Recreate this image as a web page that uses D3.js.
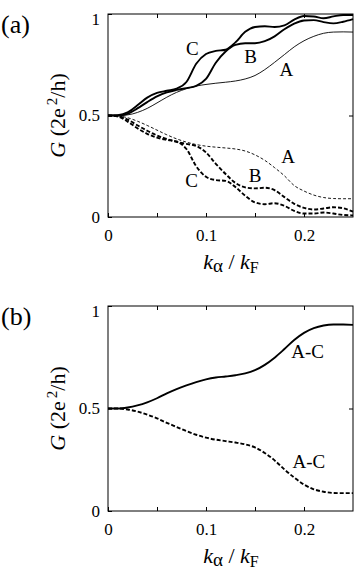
<!DOCTYPE html>
<html>
<head>
<meta charset="utf-8">
<script src="https://cdn.jsdelivr.net/npm/d3@7"></script>
<style>
  body { margin: 0; background: #fff; }
  svg { display: block; }
</style>
</head>
<body>
<svg id="chart" width="354" height="572"></svg>
<script>
// k_alpha / k_F sample points (shared by all curves)
var kx = [0, 0.01, 0.02, 0.03, 0.04, 0.05, 0.06, 0.07, 0.08, 0.09, 0.10, 0.11, 0.12,
          0.13, 0.14, 0.15, 0.16, 0.17, 0.18, 0.19, 0.20, 0.21, 0.22, 0.23, 0.24, 0.25];

// panel (a), upper (solid) curves
var upA = [0.5, 0.5, 0.503, 0.515, 0.535, 0.562, 0.59, 0.614, 0.632, 0.645, 0.653, 0.659, 0.664,
           0.67, 0.68, 0.697, 0.726, 0.762, 0.80, 0.838, 0.868, 0.89, 0.905, 0.911, 0.912, 0.911];
var upB = [0.5, 0.5, 0.508, 0.535, 0.566, 0.594, 0.614, 0.626, 0.635, 0.646, 0.68, 0.76, 0.815,
           0.848, 0.856, 0.856, 0.866, 0.89, 0.925, 0.953, 0.968, 0.97, 0.96, 0.954, 0.962, 0.975];
var upC = [0.5, 0.502, 0.515, 0.55, 0.588, 0.611, 0.622, 0.632, 0.665, 0.755, 0.803, 0.818, 0.824,
           0.86, 0.912, 0.936, 0.94, 0.936, 0.944, 0.972, 0.99, 0.988, 0.979, 0.988, 0.995, 0.995];
// panel (a), lower (dashed) curves
var dnA = [0.5, 0.498, 0.489, 0.472, 0.451, 0.428, 0.405, 0.385, 0.369, 0.357, 0.349, 0.344, 0.34,
           0.335, 0.325, 0.306, 0.279, 0.243, 0.203, 0.155, 0.128, 0.108, 0.096, 0.091, 0.09, 0.09];
var dnB = [0.5, 0.497, 0.48, 0.452, 0.425, 0.402, 0.384, 0.37, 0.36, 0.35, 0.318, 0.262, 0.212,
           0.168, 0.146, 0.141, 0.144, 0.132, 0.098, 0.065, 0.045, 0.037, 0.042, 0.048, 0.043, 0.026];
var dnC = [0.5, 0.495, 0.47, 0.437, 0.41, 0.391, 0.38, 0.372, 0.335, 0.25, 0.198, 0.182, 0.178,
           0.148, 0.105, 0.072, 0.063, 0.068, 0.055, 0.03, 0.017, 0.017, 0.022, 0.017, 0.01, 0.008];
// panel (b)
var upAC = [0.5, 0.5, 0.505, 0.515, 0.53, 0.55, 0.574, 0.595, 0.613, 0.629, 0.642, 0.651, 0.656,
            0.662, 0.671, 0.687, 0.713, 0.748, 0.79, 0.834, 0.869, 0.892, 0.905, 0.91, 0.91, 0.908];
var dnAC = [0.5, 0.5, 0.495, 0.485, 0.47, 0.452, 0.43, 0.41, 0.39, 0.372, 0.358, 0.348, 0.341,
            0.334, 0.325, 0.31, 0.283, 0.247, 0.203, 0.163, 0.129, 0.106, 0.094, 0.088, 0.087, 0.087];

var xTicks = [0, 0.05, 0.1, 0.15, 0.2];
var xLabels = ["0", "", "0.1", "", "0.2"];
var yTicks = [0, 0.5, 1];
var yLabels = ["0", "0.5", "1"];

var FONT = "'Liberation Serif', 'DejaVu Serif', 'Noto Serif', serif";
var svg = d3.select("#chart");

function panel(top, bottom, name, curves, notes) {
  var x = d3.scaleLinear().domain([0, 0.25]).range([108, 353]);
  var y = d3.scaleLinear().domain([0, 1]).range([bottom, top]);
  var g = svg.append("g").attr("font-family", FONT);

  var line = d3.line()
    .x(function(d, i) { return x(kx[i]); })
    .y(function(d) { return y(d); })
    .curve(d3.curveMonotoneX);

  curves.forEach(function(c) {
    g.append("path")
      .datum(c.v)
      .attr("d", line)
      .attr("fill", "none")
      .attr("stroke", "#000")
      .attr("stroke-width", c.w)
      .attr("stroke-dasharray", c.dash || null);
  });

  // axes, ticks pointing inward
  g.append("g").attr("transform", "translate(0," + bottom + ")")
    .call(d3.axisBottom(x).tickValues(xTicks).tickSize(-4).tickSizeOuter(0).tickPadding(12)
      .tickFormat(function(d, i) { return xLabels[i]; }));
  g.append("g").attr("transform", "translate(0," + top + ")")
    .call(d3.axisTop(x).tickValues(xTicks.slice(1)).tickSize(-4).tickSizeOuter(0).tickFormat(""));
  var ly = g.append("g").attr("transform", "translate(108,0)")
    .call(d3.axisLeft(y).tickValues(yTicks).tickSize(-4).tickSizeOuter(0).tickPadding(8)
      .tickFormat(function(d, i) { return yLabels[i]; }));
  g.append("g").attr("transform", "translate(353,0)")
    .call(d3.axisRight(y).tickValues([0.5]).tickSize(-4).tickSizeOuter(0).tickFormat(""));

  g.selectAll(".domain").remove();
  // d3 axes set their own font attributes; override them
  g.selectAll(".tick").select(function() { return this.parentNode; })
    .attr("font-family", FONT).attr("font-size", 17);
  g.selectAll(".tick line").attr("stroke", "#000");
  g.selectAll(".tick text").attr("fill", "#000");
  ly.selectAll(".tick text").filter(function(d) { return d === 1; }).attr("dy", "0.6em");

  g.append("rect")
    .attr("x", 108).attr("y", top)
    .attr("width", 245).attr("height", bottom - top)
    .attr("fill", "none").attr("stroke", "#000").attr("stroke-width", 1);

  notes.forEach(function(n) {
    g.append("text")
      .attr("x", x(n.x)).attr("y", y(n.y))
      .attr("text-anchor", "middle")
      .attr("font-size", 19)
      .text(n.t);
  });

  // y title
  var yt = g.append("text")
    .attr("transform", "translate(65," + (top + bottom) / 2 + ") rotate(-90)")
    .attr("text-anchor", "middle")
    .attr("font-size", 22);
  yt.append("tspan").attr("font-style", "italic").text("G");
  yt.append("tspan").text(" (2e");
  yt.append("tspan").attr("dx", 3).attr("dy", -8).attr("font-size", 15).text("2");
  yt.append("tspan").attr("dy", 8).text("/h)");

  // x title
  var xt = g.append("text")
    .attr("x", 231).attr("y", bottom + 52)
    .attr("text-anchor", "middle")
    .attr("font-size", 22);
  xt.append("tspan").attr("font-style", "italic").text("k");
  xt.append("tspan").attr("dy", 3).attr("font-size", 19).text("α");
  xt.append("tspan").attr("dy", -3).text(" / ");
  xt.append("tspan").attr("font-style", "italic").text("k");
  xt.append("tspan").attr("dy", 4).attr("font-size", 16).text("F");

  svg.append("text").attr("x", 1).attr("y", top + 19)
    .attr("font-family", FONT).attr("font-size", 26).text(name);
}

panel(14, 217, "(a)", [
  { v: upA, w: 0.9 },
  { v: upB, w: 1.9 },
  { v: upC, w: 1.9 },
  { v: dnA, w: 0.9, dash: "3,2" },
  { v: dnB, w: 1.9, dash: "4,2" },
  { v: dnC, w: 1.9, dash: "4,2" }
], [
  { t: "C", x: 0.086, y: 0.798 },
  { t: "B", x: 0.1456, y: 0.759 },
  { t: "A", x: 0.182, y: 0.695 },
  { t: "C", x: 0.0854, y: 0.148 },
  { t: "B", x: 0.150, y: 0.172 },
  { t: "A", x: 0.1837, y: 0.266 }
]);

panel(306, 511, "(b)", [
  { v: upAC, w: 1.9 },
  { v: dnAC, w: 1.9, dash: "4,2" }
], [
  { t: "A-C", x: 0.2036, y: 0.746 },
  { t: "A-C", x: 0.205, y: 0.21 }
]);
</script>
</body>
</html>
